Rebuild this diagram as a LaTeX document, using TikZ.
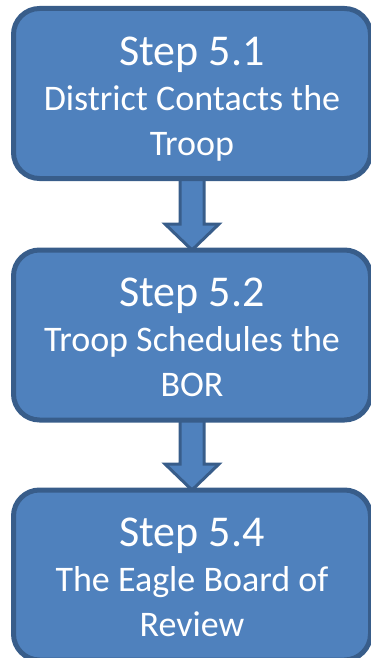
\documentclass[tikz,border=0pt]{standalone}
\usepackage{fontspec}
\setmainfont{Carlito}
\usetikzlibrary{calc,backgrounds}
\definecolor{relleno}{HTML}{4F81BD}
\definecolor{borde}{HTML}{385D8A}
\tikzset{stepbox/.style={rectangle,rounded corners=26pt,draw=borde,line width=5pt,fill=relleno,
           minimum width=357pt,minimum height=170pt,inner sep=0,outer sep=0,align=center,
           text=white,font=\fontsize{36}{45}\selectfont},
         blockarrow/.style={draw=borde,line width=3pt,fill=relleno,line join=miter}}
\newcommand\steplines[3]{{\fontsize{44}{45}\selectfont\rule{0pt}{45pt}Step #1}\\#2\\#3\rule[-12pt]{0pt}{12pt}}

\begin{document}
\begin{tikzpicture}[x=1pt,y=-1pt]
  \useasboundingbox (0,0) rectangle (371,658);
  \node[stepbox] (s1) at (192,93.5) {\steplines{5.1}{District Contacts the}{Troop}};
  \node[stepbox] (s2) at (192,335) {\steplines{5.2}{Troop Schedules the}{BOR}};
  \node[stepbox] (s4) at (192,575) {\steplines{5.4}{The Eagle Board of}{Review}};
  \begin{scope}[on background layer]
    \foreach \a/\b in {s1/s2,s2/s4}
      \draw[blockarrow] ($(\a.south)+(-12,0)$) -- ($(\b.north)+(-12,-26)$) -- ++(-15,0)
        -- (\b.north) -- ++(27,-26) -- ++(-15,0) -- ($(\a.south)+(12,0)$) -- cycle;
  \end{scope}
\end{tikzpicture}
\end{document}
